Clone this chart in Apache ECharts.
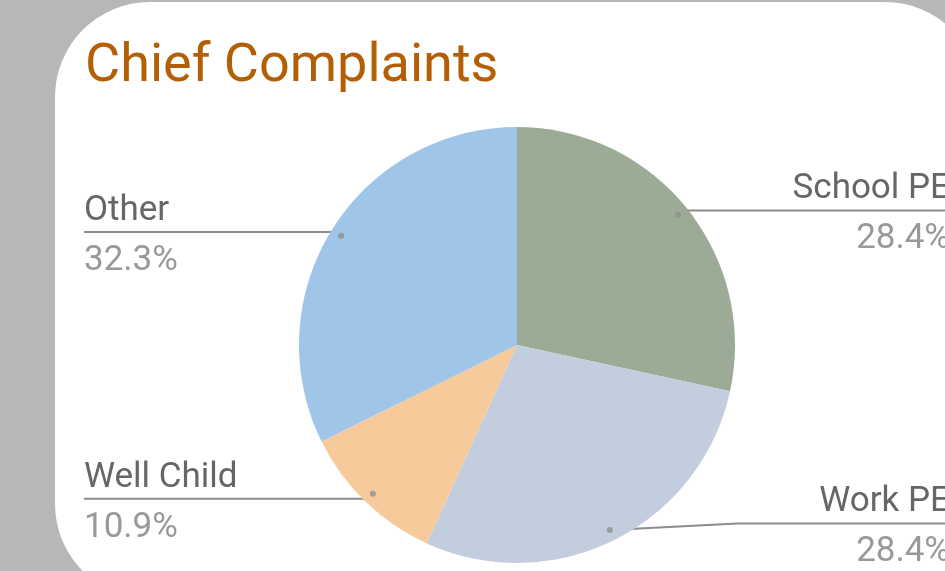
<!DOCTYPE html>
<html>
<head>
<meta charset="utf-8">
<script src="https://cdn.jsdelivr.net/npm/echarts@6/dist/echarts.min.js"></script>
<style>
  html, body { margin: 0; padding: 0; overflow: hidden; background: #b7b7b7; }
  #main { width: 1034px; height: 571px; }
</style>
</head>
<body>
<div id="main"></div>
<script>
// 数据
var categories = ['School PE', 'Work PE', 'Well Child', 'Other'];
var shares = [28.4, 28.4, 10.9, 32.3];
var palette = ['#9cab96', '#c2cddd', '#f7ca9c', '#9fc5e8'];

var CX = 517, CY = 345, R = 218;
var total = shares.reduce(function (a, b) { return a + b; }, 0);

// 扇区中点（用于小圆点）
var mids = [];
var acc = 0;
shares.forEach(function (v) {
    mids.push([1, (acc + v / 2) / total * 100]);
    acc += v;
});

var pieData = categories.map(function (c, i) {
    return { name: c, value: shares[i], itemStyle: { color: palette[i] } };
});
var labelData = categories.map(function (c, i) {
    var d = { name: c, value: shares[i] };
    if (c === 'Work PE') d.labelLine = { length: 285 };
    return d;
});

var chart = echarts.init(document.getElementById('main'));
chart.setOption({
    backgroundColor: '#b7b7b7',
    animation: false,
    title: {
        text: 'Chief Complaints',
        left: 85,
        top: 40,
        padding: 0,
        textStyle: { color: '#b45f06', fontSize: 54, fontWeight: 'normal', fontFamily: 'Roboto' }
    },
    graphic: [{
        type: 'rect',
        z: -10,
        shape: { x: 55, y: 2, width: 925, height: 597, r: 95 },
        style: { fill: '#ffffff' }
    }],
    polar: { center: [CX, CY], radius: R * 0.95 },
    angleAxis: { type: 'value', min: 0, max: 100, startAngle: 90, clockwise: true, show: false },
    radiusAxis: { type: 'value', min: 0, max: 1, show: false },
    series: [
        {
            type: 'pie',
            center: [CX, CY],
            radius: R,
            startAngle: 90,
            clockwise: true,
            silent: true,
            label: { show: false },
            labelLine: { show: false },
            data: pieData
        },
        {
            type: 'pie',
            center: [CX, CY],
            radius: R * 0.95,
            startAngle: 90,
            clockwise: true,
            silent: true,
            itemStyle: { color: 'rgba(0,0,0,0)' },
            label: {
                show: true,
                alignTo: 'edge',
                edgeDistance: 84,
                distanceToLabelLine: 0,
                padding: [8, 0, 0, 0],
                fontFamily: 'Roboto',
                formatter: function (p) {
                    return '{n|' + p.name + '}\n{v|' + p.value.toFixed(1) + '%}';
                },
                rich: {
                    n: { fontSize: 35, lineHeight: 50, color: '#666666', fontFamily: 'Roboto' },
                    v: { fontSize: 35, lineHeight: 50, color: '#999999', fontFamily: 'Roboto' }
                }
            },
            labelLine: {
                show: true,
                length: 7,
                length2: 10,
                lineStyle: { color: '#8c8c8c', width: 2 }
            },
            labelLayout: function (params) {
                var pts = params.labelLinePoints;
                if (!pts) return {};
                var r = params.labelRect;
                if (r.x < CX) {
                    pts[2][0] = r.x;
                } else {
                    pts[2][0] = r.x + r.width;
                }
                return { labelLinePoints: pts };
            },
            data: labelData
        },
        {
            type: 'scatter',
            coordinateSystem: 'polar',
            z: 5,
            silent: true,
            symbolSize: 6,
            itemStyle: { color: '#8f8f8f' },
            data: mids
        }
    ]
});
</script>
</body>
</html>
